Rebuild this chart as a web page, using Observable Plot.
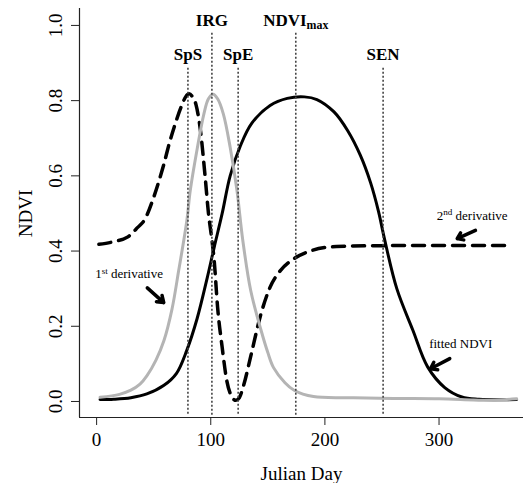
<!DOCTYPE html>
<html>
<head>
<meta charset="utf-8">
<script src="https://cdn.jsdelivr.net/npm/d3@7"></script>
<script src="https://cdn.jsdelivr.net/npm/@observablehq/plot@0.6"></script>
<style>
  html, body { margin: 0; padding: 0; background: white; }
</style>
</head>
<body>
<div id="chart"></div>
<script>
// Fitted NDVI (black solid)
const ndviDays = [3, 15, 30, 44, 59, 70, 79, 88, 97, 103, 110, 117, 126, 136, 152, 167, 182, 193, 208, 220, 231, 240, 247, 252, 263, 277, 290, 305, 320, 335, 368];
const ndviVals = [0.005, 0.006, 0.01, 0.02, 0.043, 0.075, 0.136, 0.22, 0.33, 0.41, 0.5, 0.6, 0.68, 0.74, 0.787, 0.806, 0.81, 0.803, 0.77, 0.72, 0.655, 0.582, 0.505, 0.435, 0.3, 0.19, 0.092, 0.037, 0.012, 0.006, 0.005];

// 1st derivative (grey solid)
const d1Days = [3, 20, 30, 38, 44, 52, 59, 66, 72, 79, 82, 88, 94, 98, 102, 106, 111, 117, 123, 128, 135, 144, 150, 155, 165, 173, 190, 225, 260, 300, 330, 345, 368];
const d1Vals = [0.011, 0.019, 0.03, 0.046, 0.068, 0.11, 0.162, 0.245, 0.35, 0.48, 0.56, 0.67, 0.765, 0.805, 0.817, 0.805, 0.765, 0.676, 0.56, 0.43, 0.295, 0.19, 0.13, 0.09, 0.05, 0.03, 0.013, 0.01, 0.008, 0.007, 0.004, 0.003, 0.007];

// 2nd derivative (black dashed)
const d2Days = [2, 15, 27, 36, 42, 50, 55, 59, 64, 68, 74, 78, 81, 84, 87, 91, 95, 98, 101, 103, 106, 110, 114, 118, 122, 125, 129, 135, 144, 152, 161, 173, 187, 210, 240, 300, 362];
const d2Vals = [0.418, 0.425, 0.437, 0.463, 0.483, 0.543, 0.59, 0.632, 0.69, 0.73, 0.783, 0.81, 0.818, 0.81, 0.79, 0.72, 0.6, 0.5, 0.43, 0.375, 0.25, 0.144, 0.056, 0.015, 0.003, 0.01, 0.045, 0.12, 0.233, 0.304, 0.348, 0.38, 0.4, 0.412, 0.414, 0.415, 0.415];

// Phenological events (vertical dotted lines)
const eventNames = ["SpS", "IRG", "SpE", "NDVI_max", "SEN"];
const eventDays = [80, 101, 124, 174.5, 251];
const eventTier = [0, 1, 0, 1, 0];

// Axis ticks
const xTicks = [0, 100, 200, 300];
const yTicks = [0, 0.2, 0.4, 0.6, 0.8, 1.0];

// Annotations
const noteTexts = ["1^st derivative", "2^nd derivative", "fitted NDVI"];
const noteX = [28.4, 329, 319];
const noteY = [0.339, 0.495, 0.154];
const arrowFromX = [44.4, 331.9, 309.4];
const arrowFromY = [0.302, 0.455, 0.114];
const arrowToX = [58.8, 315.9, 292.5];
const arrowToY = [0.263, 0.433, 0.087];

const xDomain = [-15, 374];
const yDomain = [-0.0426, 1.045];

const ndvi = ndviDays.map((d, i) => ({day: d, v: ndviVals[i]}));
const d1 = d1Days.map((d, i) => ({day: d, v: d1Vals[i]}));
const d2 = d2Days.map((d, i) => ({day: d, v: d2Vals[i]}));
const tierTop = [0.886, 0.979];
const tierLabel = [0.922, 1.014];
const events = eventNames.map((n, i) => ({name: n, day: eventDays[i], top: tierTop[eventTier[i]], ly: tierLabel[eventTier[i]]}));
const notes = noteTexts.map((t, i) => ({t, x: noteX[i], y: noteY[i]}));
const arrows = noteTexts.map((t, i) => ({x1: arrowFromX[i], y1: arrowFromY[i], x2: arrowToX[i], y2: arrowToY[i]}));

const plot = Plot.plot({
  width: 524,
  height: 483,
  marginLeft: 79,
  marginRight: 1,
  marginTop: 8,
  marginBottom: 66,
  x: {domain: xDomain},
  y: {domain: yDomain},
  style: {fontFamily: "'Liberation Serif', 'Times New Roman', serif", fontSize: "19px", background: "white", color: "black", overflow: "visible"},
  marks: [
    Plot.ruleX([xDomain[0]], {stroke: "#222", strokeWidth: 1.2}),
    Plot.ruleY([yDomain[0]], {stroke: "#222", strokeWidth: 1.2}),
    Plot.axisX({ticks: xTicks, tickSize: 8, tickPadding: 7, tickFormat: d => String(d), label: null, stroke: "#222"}),
    Plot.axisY({ticks: yTicks, tickSize: 8, tickFormat: () => "", label: null, stroke: "#222"}),
    Plot.text(yTicks, {x: xDomain[0], y: d => d, text: d => d.toFixed(1), rotate: -90, dx: -24, fontSize: 19}),
    Plot.text(["NDVI"], {x: xDomain[0], y: 0.5, text: d => d, rotate: -90, dx: -54, fontSize: 19}),
    Plot.text(["Julian Day"], {frameAnchor: "bottom", text: d => d, dy: 56, lineAnchor: "middle", fontSize: 19}),
    Plot.line(ndvi, {x: "day", y: "v", stroke: "black", strokeWidth: 3, curve: "catmull-rom"}),
    Plot.line(d2, {x: "day", y: "v", stroke: "black", strokeWidth: 3.5, strokeDasharray: "12,8", curve: "monotone-x"}),
    Plot.line(d1, {x: "day", y: "v", stroke: "#b4b4b4", strokeWidth: 3, curve: "catmull-rom"}),
    Plot.ruleX(events, {x: "day", y1: "top", y2: -0.037, stroke: "#444", strokeWidth: 1.6, strokeDasharray: "2,2"}),
    Plot.text(events, {x: "day", y: "ly", text: "name", fontWeight: "bold", fontSize: 17}),
    Plot.text(notes, {x: "x", y: "y", text: "t", fontSize: 13}),
    Plot.arrow(arrows, {x1: "x1", y1: "y1", x2: "x2", y2: "y2", stroke: "black", strokeWidth: 3.5, headLength: 8, headAngle: 70})
  ]
});

// rich text: ^ for superscript, _ for subscript
d3.select(plot).selectAll("text").each(function () {
  const t = this.textContent;
  const m = t.match(/^(.*?)([\^_])(\w+)(.*)$/);
  if (!m) return;
  const el = d3.select(this);
  el.text(null);
  const up = m[2] === "^";
  el.append("tspan").text(m[1]);
  el.append("tspan").attr("dy", up ? "-0.45em" : "0.3em").attr("font-size", "70%").text(m[3]);
  if (m[4]) el.append("tspan").attr("dy", up ? "0.32em" : "-0.2em").text(m[4].replace(/^ /, "\u00a0"));
});

document.getElementById("chart").appendChild(plot);
</script>
</body>
</html>
